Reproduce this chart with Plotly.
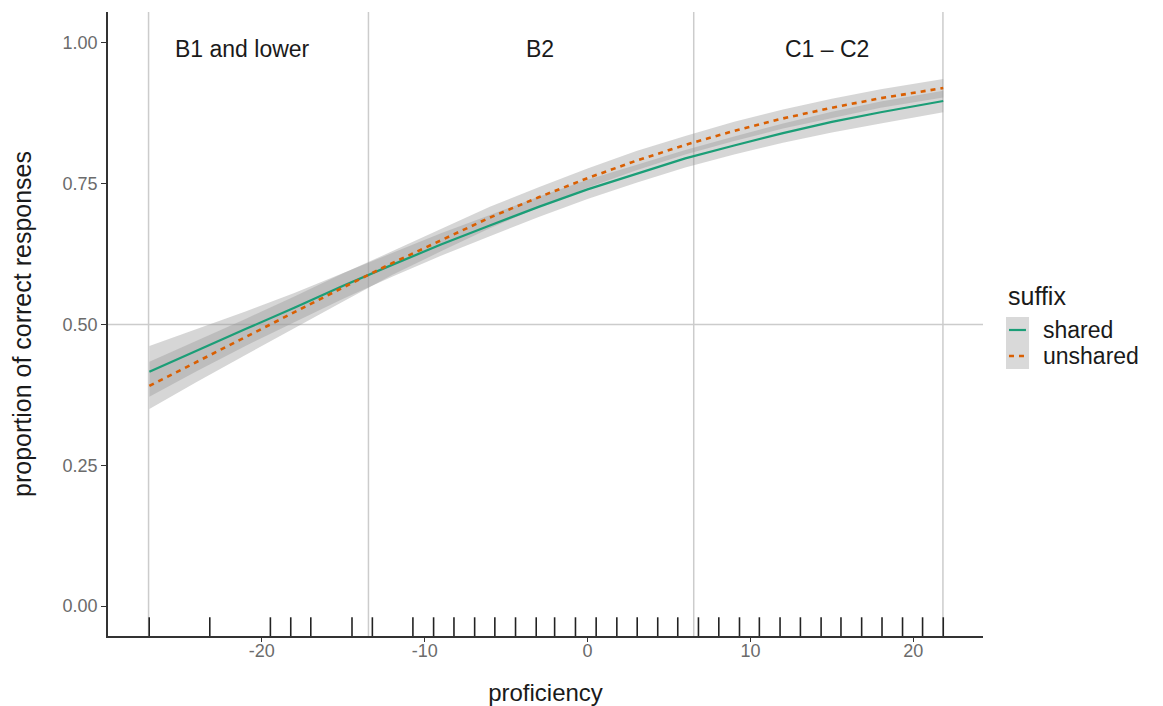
import plotly.graph_objects as go

# ---------------- data ----------------
proficiency = [-26.9, -24, -21, -18, -15, -12, -9, -6, -3, 0, 3, 6, 9, 12, 15, 18, 21.84]

shared_fit = [0.416, 0.454, 0.492, 0.530, 0.569, 0.606, 0.642, 0.676, 0.709,
              0.740, 0.768, 0.795, 0.818, 0.840, 0.860, 0.877, 0.897]
shared_lo = [0.372, 0.417, 0.462, 0.504, 0.546, 0.585, 0.622, 0.657, 0.691,
             0.723, 0.752, 0.779, 0.802, 0.823, 0.841, 0.857, 0.877]
shared_hi = [0.462, 0.492, 0.523, 0.556, 0.592, 0.627, 0.662, 0.695, 0.727,
             0.757, 0.784, 0.810, 0.834, 0.857, 0.878, 0.896, 0.915]

unshared_fit = [0.391, 0.434, 0.478, 0.522, 0.566, 0.609, 0.650, 0.690, 0.726,
                0.760, 0.791, 0.819, 0.844, 0.866, 0.885, 0.902, 0.920]
unshared_lo = [0.350, 0.398, 0.446, 0.494, 0.541, 0.588, 0.630, 0.671, 0.708,
               0.743, 0.774, 0.802, 0.826, 0.848, 0.867, 0.885, 0.903]
unshared_hi = [0.434, 0.471, 0.510, 0.550, 0.591, 0.630, 0.670, 0.709, 0.744,
               0.777, 0.808, 0.835, 0.860, 0.882, 0.901, 0.918, 0.936]

rug_values = [-26.91, -23.19, -19.47, -18.22, -16.99, -14.46, -13.21, -10.72,
              -9.45, -8.20, -6.93, -5.69, -4.42, -3.15, -2.02, -0.74, 0.53,
              1.80, 3.05, 4.31, 5.54, 6.81, 8.06, 9.33, 10.55, 11.82, 13.07,
              14.34, 15.56, 16.83, 18.08, 19.34, 20.57, 21.84]

band_edges = [-26.95, -13.45, 6.52, 21.82]
region_labels = ["B1 and lower", "B2", "C1 – C2"]
region_label_x = [-21.2, -2.9, 14.7]
region_label_y = 0.989
reference_line_y = 0.5

series_names = ["shared", "unshared"]
series_colors = ["#1b9e77", "#d95f02"]

x_ticks = [-20, -10, 0, 10, 20]
x_tick_text = ["-20", "-10", "0", "10", "20"]
y_ticks = [0, 0.25, 0.5, 0.75, 1.0]
y_tick_text = ["0.00", "0.25", "0.50", "0.75", "1.00"]

x_range = [-29.44, 24.28]
y_range = [-0.053, 1.055]

FONT = "Liberation Sans, Arial, Helvetica, sans-serif"
RIBBON = "rgba(153,153,153,0.4)"
GRID = "#cccccc"

fig = go.Figure()

series = [
    (series_names[0], shared_fit, shared_lo, shared_hi, series_colors[0], "solid", 2.2),
    (series_names[1], unshared_fit, unshared_lo, unshared_hi, series_colors[1], "5px,5px", 2.6),
]
for name, fit, lo, hi, col, dash, w in series:
    fig.add_trace(go.Scatter(
        x=proficiency + proficiency[::-1],
        y=hi + lo[::-1],
        fill="toself", fillcolor=RIBBON, line=dict(width=0),
        mode="lines", hoverinfo="skip", showlegend=False,
    ))
for name, fit, lo, hi, col, dash, w in series:
    fig.add_trace(go.Scatter(
        x=proficiency, y=fit, mode="lines", name=name,
        line=dict(color=col, width=w, dash=dash), showlegend=False,
    ))

# rug
rug_top = y_range[0] + 0.03 * (y_range[1] - y_range[0])
rx, ry = [], []
for v in rug_values:
    rx += [v, v, None]
    ry += [y_range[0], rug_top, None]
fig.add_trace(go.Scatter(x=rx, y=ry, mode="lines",
                         line=dict(color="#222222", width=1.6),
                         hoverinfo="skip", showlegend=False, cliponaxis=False))

shapes = []
for e in band_edges:
    shapes.append(dict(type="line", xref="x", yref="paper", x0=e, x1=e, y0=0, y1=1,
                       line=dict(color=GRID, width=1.5), layer="below"))
shapes.append(dict(type="line", xref="paper", yref="y", x0=0, x1=1,
                   y0=reference_line_y, y1=reference_line_y,
                   line=dict(color=GRID, width=1.5), layer="below"))

# custom legend (ggplot style)
shapes.append(dict(type="rect", xref="paper", yref="paper",
                   x0=1.0263, x1=1.0526, y0=0.4279, y1=0.5112,
                   fillcolor="#d9d9d9", line=dict(width=0), layer="above"))
shapes.append(dict(type="line", xref="paper", yref="paper",
                   x0=1.0297, x1=1.0491, y0=0.4904, y1=0.4904,
                   line=dict(color=series_colors[0], width=2.2)))
shapes.append(dict(type="line", xref="paper", yref="paper",
                   x0=1.0297, x1=1.0491, y0=0.4487, y1=0.4487,
                   line=dict(color=series_colors[1], width=2.6, dash="5px,5px")))

annotations = []
for lab, lx in zip(region_labels, region_label_x):
    annotations.append(dict(x=lx, y=region_label_y, xref="x", yref="y", text=lab,
                            showarrow=False, font=dict(family=FONT, size=23, color="#1a1a1a"),
                            xanchor="center", yanchor="middle"))
annotations.append(dict(x=1.0263, y=0.5449, xref="paper", yref="paper", text="suffix",
                        showarrow=False, xanchor="left", yanchor="middle",
                        font=dict(family=FONT, size=25, color="#1a1a1a")))
for lab, ly in zip(series_names, [0.4904, 0.4487]):
    annotations.append(dict(x=1.0663, y=ly, xref="paper", yref="paper", text=lab,
                            showarrow=False, xanchor="left", yanchor="middle",
                            font=dict(family=FONT, size=23, color="#1a1a1a")))

# page body has an 8px margin -> figure is 8px smaller and margins shifted
fig.update_layout(
    width=1155, height=698,
    margin=dict(l=100, r=180, t=4, b=70),
    paper_bgcolor="white", plot_bgcolor="white",
    font=dict(family=FONT),
    showlegend=False,
    shapes=shapes, annotations=annotations,
    xaxis=dict(range=x_range, tickvals=x_ticks, ticktext=x_tick_text, ticks="outside",
               ticklen=4, tickcolor="#333333", tickwidth=1, showline=True,
               linecolor="#333333", linewidth=1.6, showgrid=False, zeroline=False,
               automargin=False, ticklabelstandoff=-6,
               tickfont=dict(family=FONT, size=18, color="#6b6b6b"),
               title=dict(text="proficiency", standoff=26,
                          font=dict(family=FONT, size=24, color="#1a1a1a"))),
    yaxis=dict(range=y_range, tickvals=y_ticks, ticktext=y_tick_text, ticks="outside",
               ticklen=5, tickcolor="#333333", tickwidth=1, showline=True,
               linecolor="#333333", linewidth=1.6, showgrid=False, zeroline=False,
               automargin=False,
               tickfont=dict(family=FONT, size=18, color="#6b6b6b"),
               title=dict(text="proportion of correct responses", standoff=29,
                          font=dict(family=FONT, size=25, color="#1a1a1a"))),
)

fig.write_html("out.html")
